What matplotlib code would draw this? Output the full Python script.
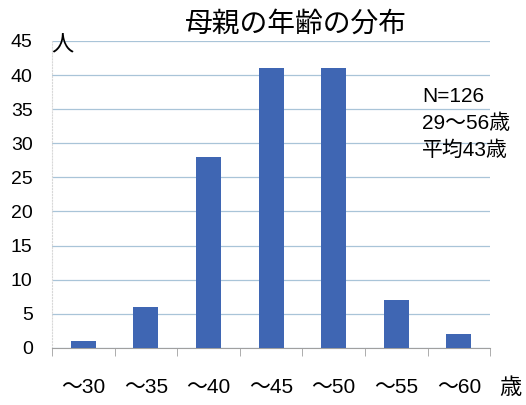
import matplotlib
matplotlib.use("Agg")
import matplotlib.pyplot as plt
import numpy as np

plt.rcParams['font.family'] = ['Liberation Sans', 'Noto Sans CJK JP', 'DejaVu Sans']

# age groups and counts
categories = ['～30', '～35', '～40', '～45', '～50', '～55', '～60']
counts = [1, 6, 28, 41, 41, 7, 2]
yticks = [0, 5, 10, 15, 20, 25, 30, 35, 40, 45]

fig = plt.figure(figsize=(5.26, 4.05), dpi=100)
ax = fig.add_axes([0.099, 0.141, 0.833, 0.758])

x = np.arange(len(categories))
ax.bar(x, counts, width=0.4, color='#3F66B3', zorder=3)

ax.set_xlim(-0.5, len(categories) - 0.5)
ax.set_ylim(0, 45)
ax.set_yticks(yticks)
ax.yaxis.grid(True, color='#A9C4D8', linewidth=0.9, zorder=0)
ax.tick_params(axis='y', length=0, labelsize=14, pad=14)

ax.set_xticks(x)
ax.set_xticklabels(categories, fontsize=15)
ax.tick_params(axis='x', length=0, pad=22)
# category boundary ticks below the axis
ax.set_xticks(np.arange(-0.5, len(categories)), minor=True)
ax.tick_params(axis='x', which='minor', length=6, color='#A0A0A0', direction='out')

for s in ['top', 'right']:
    ax.spines[s].set_visible(False)
ax.spines['left'].set_color('#D8D8D8')
ax.spines['left'].set_linestyle(':')
ax.spines['bottom'].set_color('#A0A0A0')

fig.text(0.563, 0.94, '母親の年齢の分布', ha='center', va='center', fontsize=20)
fig.text(0.118, 0.886, '人', ha='center', va='center', fontsize=16)
fig.text(0.97, 0.04, '歳', ha='center', va='center', fontsize=16)
ax.text(0.845, 0.85, 'N=126\n29～56歳\n平均43歳', transform=ax.transAxes,
        ha='left', va='top', fontsize=15, linespacing=1.5)

fig.savefig('out.png', dpi=100)
